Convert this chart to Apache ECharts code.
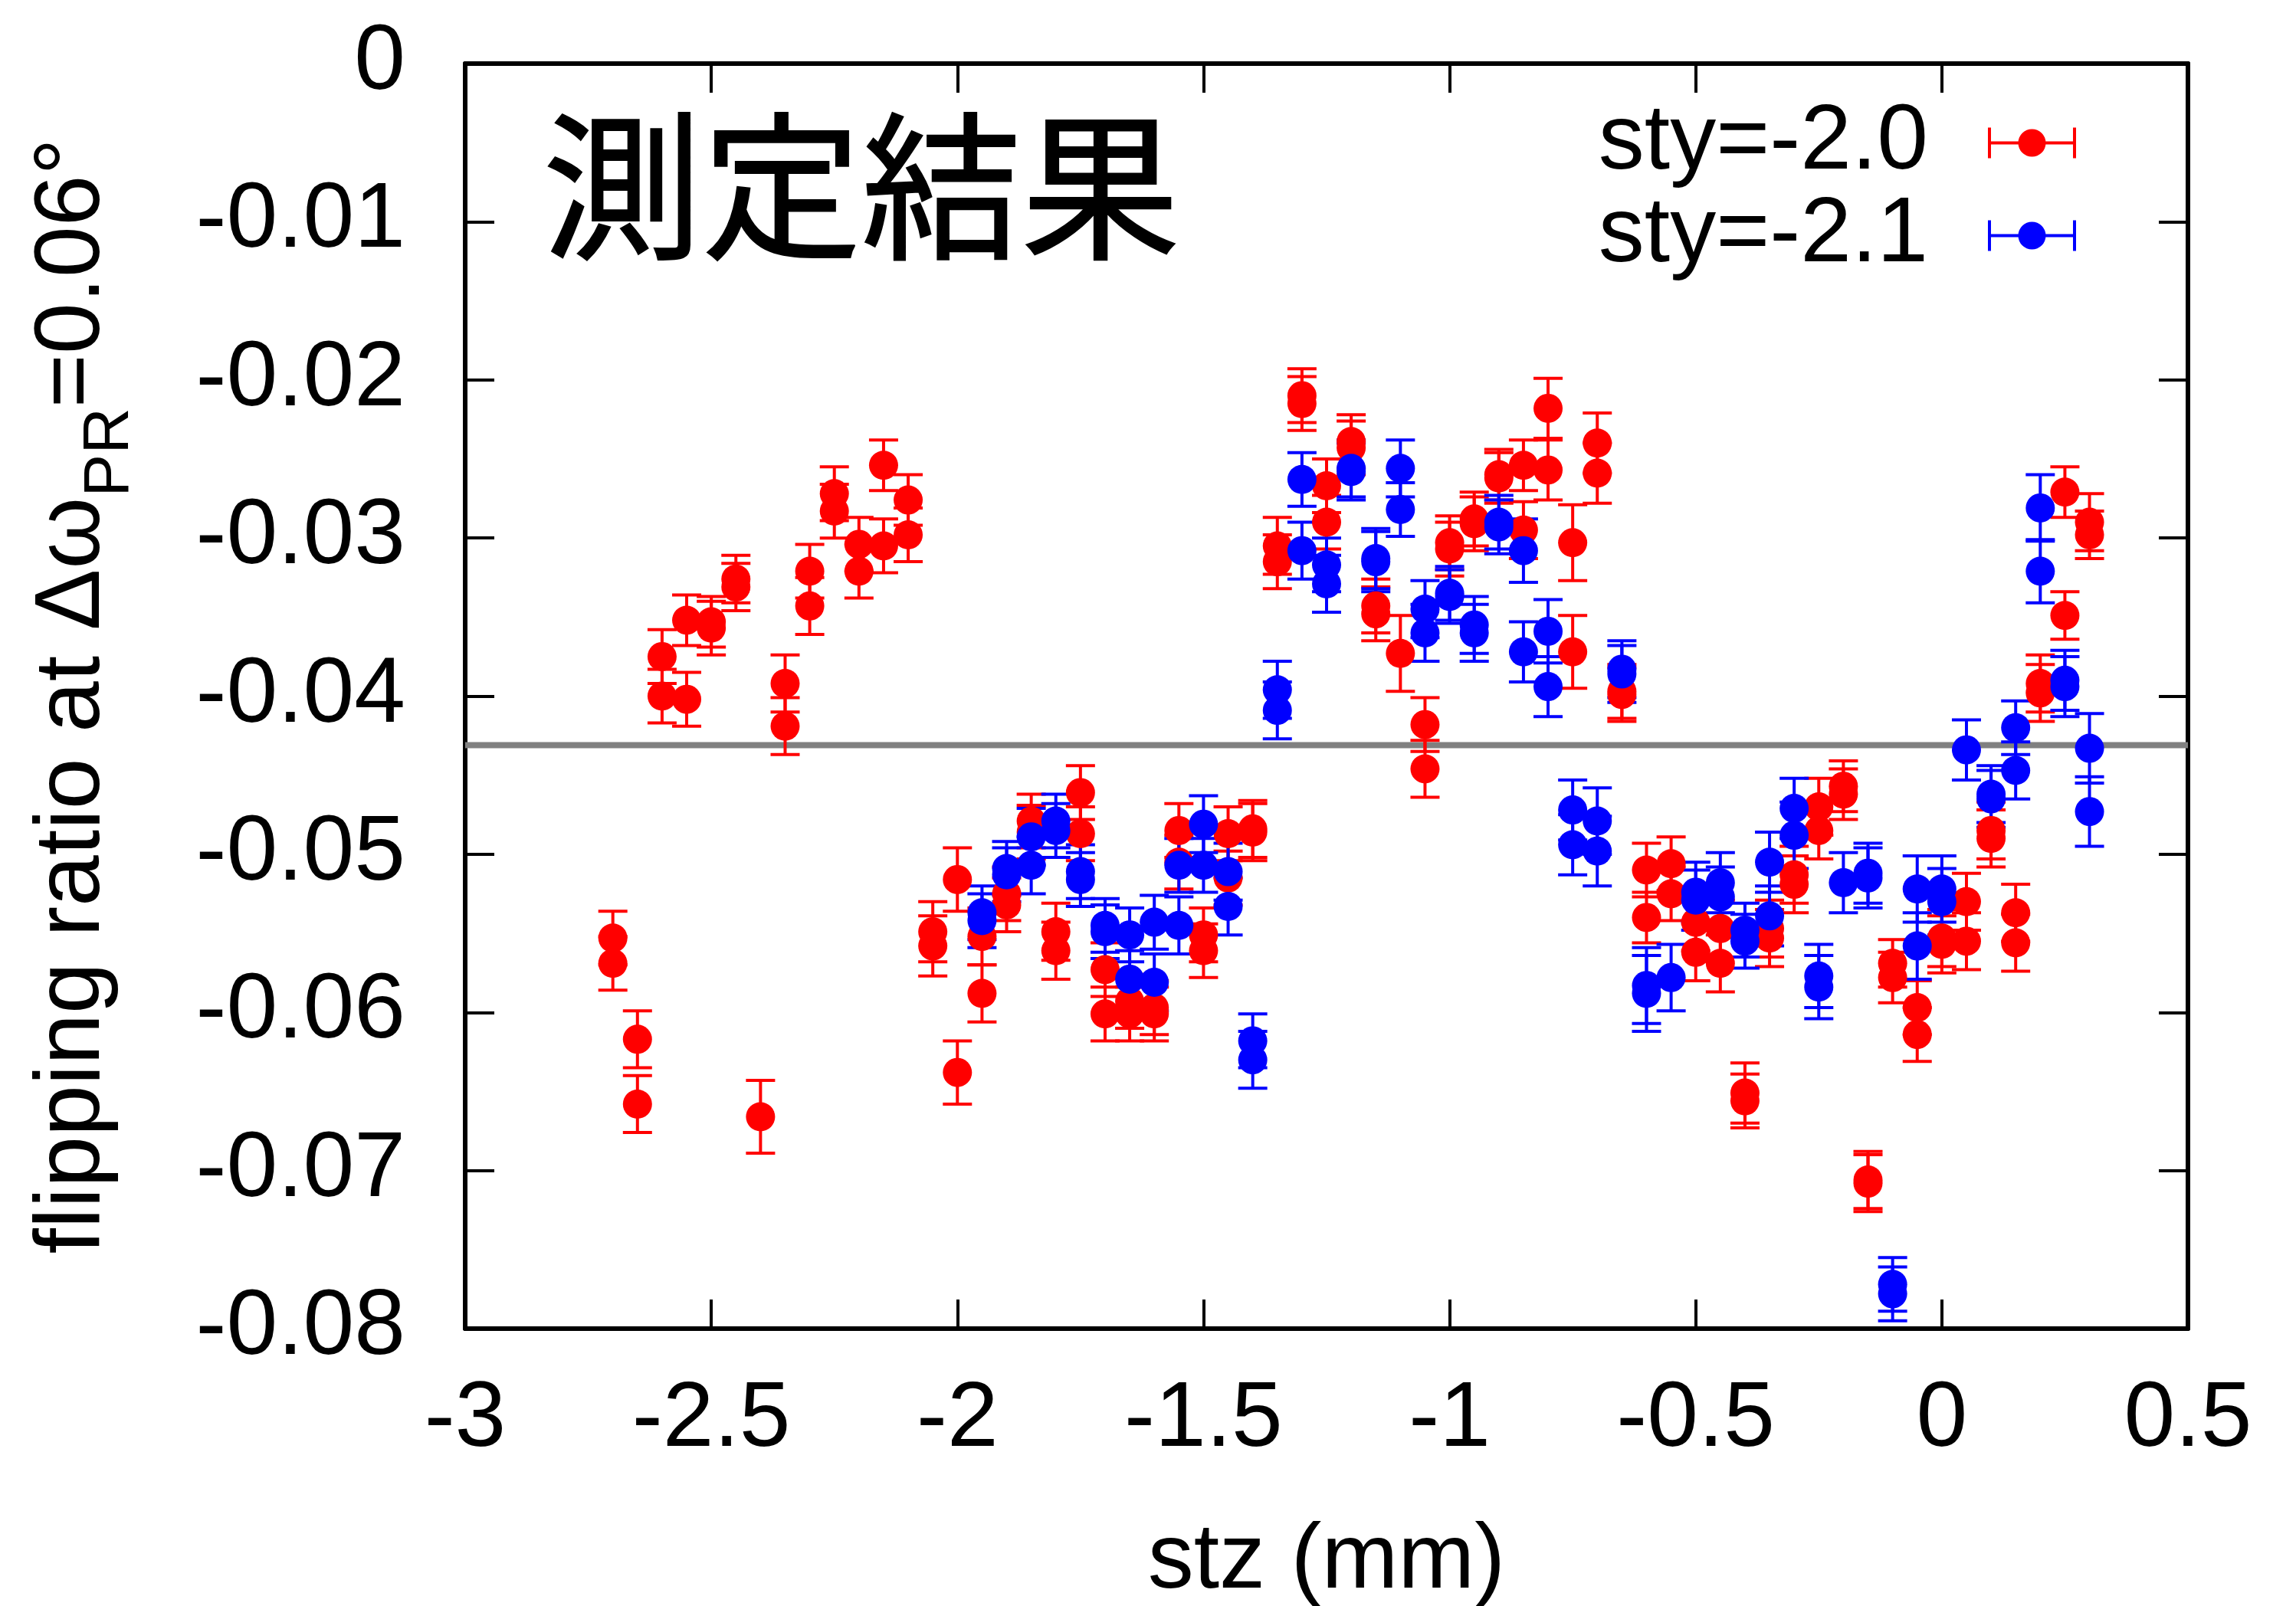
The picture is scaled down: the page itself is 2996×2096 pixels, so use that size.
<!DOCTYPE html>
<html>
<head>
<meta charset="utf-8">
<title>flipping ratio vs stz</title>
<script src="https://cdn.jsdelivr.net/npm/echarts@6/dist/echarts.min.js"></script>
<style>
  html, body { margin: 0; padding: 0; background: #fff; }
  #main { width: 2996px; height: 2096px; }
</style>
</head>
<body>
<div id="main"></div>
<script>
// [stz (mm), flipping ratio, error], two scans per position
var red = [
  [-2.7, -0.0553, 0.0017], [-2.7, -0.0569, 0.0017],
  [-2.65, -0.0617, 0.0018], [-2.65, -0.0658, 0.0018],
  [-2.6, -0.0375, 0.0017], [-2.6, -0.0400, 0.0017],
  [-2.55, -0.0352, 0.0016], [-2.55, -0.0402, 0.0017],
  [-2.5, -0.0353, 0.0016], [-2.5, -0.0357, 0.0017],
  [-2.45, -0.0326, 0.0015], [-2.45, -0.0331, 0.0015],
  [-2.4, -0.0666, 0.0023],
  [-2.35, -0.0392, 0.0018], [-2.35, -0.0419, 0.0018],
  [-2.3, -0.0321, 0.0017], [-2.3, -0.0343, 0.0018],
  [-2.25, -0.0272, 0.0017], [-2.25, -0.0283, 0.0017],
  [-2.2, -0.0304, 0.0017], [-2.2, -0.0321, 0.0017],
  [-2.15, -0.0254, 0.0016], [-2.15, -0.0305, 0.0017],
  [-2.1, -0.0276, 0.0016], [-2.1, -0.0298, 0.0017],
  [-2.05, -0.0549, 0.0019], [-2.05, -0.0558, 0.0019],
  [-2.0, -0.0516, 0.0020], [-2.0, -0.0638, 0.0020],
  [-1.95, -0.0552, 0.0018], [-1.95, -0.0588, 0.0018],
  [-1.9, -0.0525, 0.0017], [-1.9, -0.0532, 0.0017],
  [-1.85, -0.0479, 0.0017], [-1.85, -0.0486, 0.0017],
  [-1.8, -0.0549, 0.0018], [-1.8, -0.0561, 0.0018],
  [-1.75, -0.0461, 0.0017], [-1.75, -0.0487, 0.0017],
  [-1.7, -0.0573, 0.0017], [-1.7, -0.0601, 0.0017],
  [-1.65, -0.0593, 0.0017], [-1.65, -0.0601, 0.0017],
  [-1.6, -0.0597, 0.0017], [-1.6, -0.0601, 0.0017],
  [-1.55, -0.0485, 0.0017], [-1.55, -0.0505, 0.0017],
  [-1.5, -0.0551, 0.0017], [-1.5, -0.0561, 0.0017],
  [-1.45, -0.0487, 0.0017], [-1.45, -0.0515, 0.0017],
  [-1.4, -0.0484, 0.0018], [-1.4, -0.0486, 0.0018],
  [-1.35, -0.0305, 0.0018], [-1.35, -0.0315, 0.0017],
  [-1.3, -0.0210, 0.0017], [-1.3, -0.0215, 0.0017],
  [-1.25, -0.0267, 0.0017], [-1.25, -0.0290, 0.0017],
  [-1.2, -0.0239, 0.0017], [-1.2, -0.0243, 0.0017],
  [-1.15, -0.0343, 0.0017], [-1.15, -0.0348, 0.0017],
  [-1.1, -0.0373, 0.0024],
  [-1.05, -0.0418, 0.0017], [-1.05, -0.0446, 0.0018],
  [-1.0, -0.0303, 0.0017], [-1.0, -0.0307, 0.0017],
  [-0.95, -0.0288, 0.0017], [-0.95, -0.0291, 0.0017],
  [-0.9, -0.0260, 0.0016], [-0.9, -0.0262, 0.0016],
  [-0.85, -0.0254, 0.0016], [-0.85, -0.0295, 0.0018],
  [-0.8, -0.0218, 0.0019], [-0.8, -0.0257, 0.0019],
  [-0.75, -0.0303, 0.0024], [-0.75, -0.0372, 0.0023],
  [-0.7, -0.0240, 0.0019], [-0.7, -0.0259, 0.0019],
  [-0.65, -0.0397, 0.0017], [-0.65, -0.0399, 0.0017],
  [-0.6, -0.0510, 0.0017], [-0.6, -0.0540, 0.0016],
  [-0.55, -0.0506, 0.0017], [-0.55, -0.0525, 0.0017],
  [-0.5, -0.0543, 0.0018], [-0.5, -0.0562, 0.0018],
  [-0.45, -0.0547, 0.0018], [-0.45, -0.0569, 0.0018],
  [-0.4, -0.0651, 0.0019], [-0.4, -0.0656, 0.0017],
  [-0.35, -0.0547, 0.0018], [-0.35, -0.0553, 0.0018],
  [-0.3, -0.0513, 0.0018], [-0.3, -0.0519, 0.0018],
  [-0.25, -0.0470, 0.0018], [-0.25, -0.0485, 0.0018],
  [-0.2, -0.0457, 0.0016], [-0.2, -0.0462, 0.0016],
  [-0.15, -0.0706, 0.0018], [-0.15, -0.0708, 0.0018],
  [-0.1, -0.0569, 0.0015], [-0.1, -0.0578, 0.0016],
  [-0.05, -0.0597, 0.0017], [-0.05, -0.0614, 0.0017],
  [0, -0.0553, 0.0018], [0, -0.0557, 0.0018],
  [0.05, -0.0530, 0.0018], [0.05, -0.0555, 0.0018],
  [0.1, -0.0485, 0.0018], [0.1, -0.0490, 0.0018],
  [0.15, -0.0537, 0.0018], [0.15, -0.0556, 0.0018],
  [0.2, -0.0392, 0.0018], [0.2, -0.0398, 0.0018],
  [0.25, -0.0271, 0.0016], [0.25, -0.0349, 0.0015],
  [0.3, -0.0290, 0.0018], [0.3, -0.0298, 0.0015]
];

var blue = [
  [-1.95, -0.0537, 0.0017], [-1.95, -0.0542, 0.0017],
  [-1.9, -0.0509, 0.0017], [-1.9, -0.0513, 0.0017],
  [-1.85, -0.0489, 0.0018], [-1.85, -0.0507, 0.0018],
  [-1.8, -0.0479, 0.0017], [-1.8, -0.0485, 0.0017],
  [-1.75, -0.0511, 0.0017], [-1.75, -0.0516, 0.0017],
  [-1.7, -0.0545, 0.0017], [-1.7, -0.0549, 0.0017],
  [-1.65, -0.0551, 0.0017], [-1.65, -0.0579, 0.0018],
  [-1.6, -0.0543, 0.0017], [-1.6, -0.0581, 0.0018],
  [-1.55, -0.0507, 0.0017], [-1.55, -0.0545, 0.0018],
  [-1.5, -0.0481, 0.0018], [-1.5, -0.0507, 0.0017],
  [-1.45, -0.0511, 0.0018], [-1.45, -0.0533, 0.0018],
  [-1.4, -0.0618, 0.0017], [-1.4, -0.0630, 0.0018],
  [-1.35, -0.0396, 0.0018], [-1.35, -0.0409, 0.0018],
  [-1.3, -0.0263, 0.0017], [-1.3, -0.0308, 0.0018],
  [-1.25, -0.0317, 0.0017], [-1.25, -0.0329, 0.0018],
  [-1.2, -0.0256, 0.0018], [-1.2, -0.0258, 0.0018],
  [-1.15, -0.0313, 0.0019], [-1.15, -0.0315, 0.0019],
  [-1.1, -0.0256, 0.0018], [-1.1, -0.0282, 0.0017],
  [-1.05, -0.0345, 0.0018], [-1.05, -0.0360, 0.0018],
  [-1.0, -0.0335, 0.0017], [-1.0, -0.0337, 0.0017],
  [-0.95, -0.0355, 0.0018], [-0.95, -0.0360, 0.0018],
  [-0.9, -0.0290, 0.0017], [-0.9, -0.0293, 0.0017],
  [-0.85, -0.0308, 0.0020], [-0.85, -0.0372, 0.0019],
  [-0.8, -0.0359, 0.0020], [-0.8, -0.0394, 0.0019],
  [-0.75, -0.0472, 0.0019], [-0.75, -0.0494, 0.0019],
  [-0.7, -0.0479, 0.0021], [-0.7, -0.0498, 0.0022],
  [-0.65, -0.0383, 0.0018], [-0.65, -0.0386, 0.0018],
  [-0.6, -0.0583, 0.0024], [-0.6, -0.0588, 0.0024],
  [-0.55, -0.0578, 0.0021],
  [-0.5, -0.0524, 0.0019], [-0.5, -0.0529, 0.0019],
  [-0.45, -0.0518, 0.0019], [-0.45, -0.0527, 0.0019],
  [-0.4, -0.0548, 0.0017], [-0.4, -0.0555, 0.0017],
  [-0.35, -0.0505, 0.0019], [-0.35, -0.0539, 0.0019],
  [-0.3, -0.0471, 0.0019], [-0.3, -0.0488, 0.0021],
  [-0.25, -0.0577, 0.0020], [-0.25, -0.0584, 0.0020],
  [-0.2, -0.0518, 0.0019],
  [-0.15, -0.0512, 0.0019], [-0.15, -0.0515, 0.0019],
  [-0.1, -0.0772, 0.0017], [-0.1, -0.0778, 0.0017],
  [-0.05, -0.0522, 0.0021], [-0.05, -0.0558, 0.0021],
  [0, -0.0522, 0.0021], [0, -0.0530, 0.0021],
  [0.05, -0.0434, 0.0019],
  [0.1, -0.0462, 0.0018], [0.1, -0.0465, 0.0018],
  [0.15, -0.0420, 0.0017], [0.15, -0.0447, 0.0018],
  [0.2, -0.0281, 0.0021], [0.2, -0.0321, 0.0020],
  [0.25, -0.0390, 0.0019], [0.25, -0.0394, 0.0019],
  [0.3, -0.0433, 0.0022], [0.3, -0.0473, 0.0022]
];

var seriesNames = ['sty=-2.0', 'sty=-2.1'];
var refLevel = -0.0431; // grey reference line
var xRange = [-3, 0.5];
var yRange = [-0.08, 0];

var FONT = 'Liberation Sans';
// legend icon: horizontal error bar with end caps and a dot
var barIcon = 'path://M0,18h115v4h-115z M0,0h4v40h-4z M111,0h4v40h-4z ' +
  'M39.5,20a18,18 0 1,1 36,0a18,18 0 1,1 -36,0z';

function errorBars(points, color) {
  return {
    type: 'custom',
    silent: true,
    animation: false,
    data: points.map(function (p) { return [p[0], p[1] - p[2], p[1] + p[2]]; }),
    encode: { x: 0, y: [1, 2] },
    renderItem: function (params, api) {
      var lo = api.coord([api.value(0), api.value(1)]);
      var hi = api.coord([api.value(0), api.value(2)]);
      var w = 19;
      var st = { stroke: color, lineWidth: 4 };
      return {
        type: 'group',
        children: [
          { type: 'line', shape: { x1: lo[0], y1: lo[1], x2: hi[0], y2: hi[1] }, style: st },
          { type: 'line', shape: { x1: lo[0] - w, y1: lo[1], x2: lo[0] + w, y2: lo[1] }, style: st },
          { type: 'line', shape: { x1: hi[0] - w, y1: hi[1], x2: hi[0] + w, y2: hi[1] }, style: st }
        ]
      };
    }
  };
}

function dots(name, points, color) {
  return {
    name: name,
    type: 'scatter',
    animation: false,
    symbol: 'circle',
    symbolSize: 38,
    itemStyle: { color: color, opacity: 1 },
    data: points.map(function (p) { return [p[0], p[1]]; })
  };
}

var axisLine = { show: true, onZero: false, lineStyle: { color: '#000', width: 6 } };
var tick = { show: true, inside: true, length: 38, lineStyle: { color: '#000', width: 4 } };

var myChart = echarts.init(document.getElementById('main'), null, { renderer: 'canvas' });
myChart.setOption({
  backgroundColor: '#fff',
  animation: false,
  grid: { left: 607, right: 141, top: 83, bottom: 362, containLabel: false, outerBoundsMode: 'none' },
  xAxis: [{
    type: 'value', min: xRange[0], max: xRange[1], interval: 0.5,
    name: 'stz (mm)', nameLocation: 'middle', nameGap: 235,
    nameTextStyle: { fontSize: 120, fontFamily: FONT, color: '#000', lineHeight: 140 },
    axisLine: axisLine, axisTick: tick, splitLine: { show: false },
    axisLabel: { fontSize: 120, fontFamily: FONT, color: '#000', margin: 50, lineHeight: 140 }
  }, {
    type: 'value', position: 'top', min: xRange[0], max: xRange[1], interval: 0.5,
    axisLine: axisLine, axisTick: tick, splitLine: { show: false }, axisLabel: { show: false }
  }],
  yAxis: [{
    type: 'value', min: yRange[0], max: yRange[1], interval: 0.01,
    name: 'flipping ratio at Δω{sub|PR}=0.06°', nameLocation: 'middle', nameGap: 421,
    nameTextStyle: {
      fontSize: 120, fontFamily: FONT, color: '#000', lineHeight: 180,
      rich: { sub: { fontSize: 84, fontFamily: FONT, color: '#000', lineHeight: 84, verticalAlign: 'bottom' } }
    },
    axisLine: axisLine, axisTick: tick, splitLine: { show: false },
    axisLabel: { fontSize: 120, fontFamily: FONT, color: '#000', margin: 78 }
  }, {
    type: 'value', position: 'right', min: yRange[0], max: yRange[1], interval: 0.01,
    axisLine: axisLine, axisTick: tick, splitLine: { show: false }, axisLabel: { show: false }
  }],
  legend: {
    orient: 'vertical', right: 282, top: 121, align: 'right',
    itemWidth: 115, itemHeight: 40, itemGap: 0,
    icon: barIcon,
    selectedMode: false,
    textStyle: { fontSize: 120, fontFamily: FONT, color: '#000', lineHeight: 121, padding: [0, 73, 0, 0] },
    data: seriesNames
  },
  graphic: [{
    type: 'text', x: 708, y: 243,
    style: {
      text: '測定結果', fontSize: 208, fontFamily: 'Noto Sans CJK JP',
      fill: '#000', stroke: '#000', lineWidth: 2, align: 'left', verticalAlign: 'middle'
    }
  }],
  series: [
    {
      // horizontal reference level across the whole frame
      type: 'line', silent: true, animation: false, symbol: 'none', z: 1,
      lineStyle: { color: '#808080', width: 8 },
      data: [[xRange[0], refLevel], [xRange[1], refLevel]]
    },
    errorBars(red, '#ff0000'),
    dots(seriesNames[0], red, '#ff0000'),
    errorBars(blue, '#0000ff'),
    dots(seriesNames[1], blue, '#0000ff')
  ]
});
</script>
</body>
</html>
